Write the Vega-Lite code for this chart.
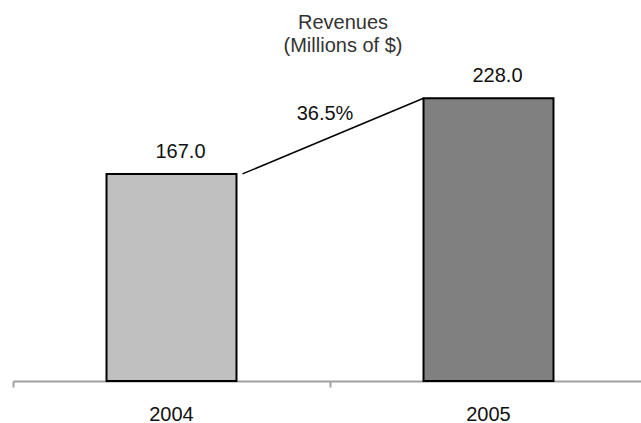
{
  "$schema": "https://vega.github.io/schema/vega-lite/v6.json",
  "width": 634,
  "height": 310,
  "autosize": {"type": "none"},
  "padding": {"left": 13, "top": 71, "right": 0, "bottom": 42},
  "background": "white",
  "config": {"view": {"stroke": null}, "font": "Liberation Sans"},
  "title": {
    "text": ["Revenues", "(Millions of $)"],
    "fontSize": 20,
    "fontWeight": "normal",
    "color": "#333333",
    "anchor": "middle",
    "dx": 13,
    "offset": 10,
    "lineHeight": 23
  },
  "datasets": {
    "revenues": [
      {"year": "2004", "revenue": 167.0, "label": "167.0"},
      {"year": "2005", "revenue": 228.0, "label": "228.0"}
    ],
    "growth": [
      {"from": "2004", "to": "2005", "start": 167.0, "end": 228.0, "growth": "36.5%"}
    ]
  },
  "layer": [
    {
      "data": {"name": "revenues"},
      "mark": {"type": "bar", "stroke": "black", "strokeWidth": 2, "width": {"band": 0.41}},
      "encoding": {
        "x": {
          "field": "year",
          "type": "nominal",
          "scale": {"padding": 0},
          "axis": {
            "title": null,
            "labelAngle": 0,
            "bandPosition": 0,
            "domainColor": "#A0A0A0",
            "domainWidth": 2,
            "tickColor": "#A0A0A0",
            "tickWidth": 2,
            "tickSize": 6,
            "labelFontSize": 20,
            "labelColor": "#111111",
            "labelPadding": 17
          }
        },
        "y": {"field": "revenue", "type": "quantitative", "scale": {"domain": [0, 250], "nice": false}, "axis": null},
        "color": {
          "field": "year",
          "type": "nominal",
          "scale": {"domain": ["2004", "2005"], "range": ["#C0C0C0", "#808080"]},
          "legend": null
        }
      }
    },
    {
      "data": {"name": "revenues"},
      "mark": {"type": "text", "fontSize": 20, "color": "#111111", "dx": 9, "dy": -22, "baseline": "middle"},
      "encoding": {
        "x": {"field": "year", "type": "nominal"},
        "y": {"field": "revenue", "type": "quantitative"},
        "text": {"field": "label"}
      }
    },
    {
      "data": {"name": "growth"},
      "mark": {"type": "rule", "color": "black", "strokeWidth": 1.5, "xOffset": 71, "x2Offset": -65},
      "encoding": {
        "x": {"field": "from", "type": "nominal", "bandPosition": 0.5},
        "x2": {"field": "to"},
        "y": {"field": "start", "type": "quantitative"},
        "y2": {"field": "end"}
      }
    },
    {
      "data": {"name": "growth"},
      "mark": {"type": "text", "fontSize": 20, "color": "#111111", "dx": -5, "dy": 16, "baseline": "middle"},
      "encoding": {
        "x": {"field": "from", "type": "nominal", "bandPosition": 1},
        "y": {"field": "end", "type": "quantitative"},
        "text": {"field": "growth"}
      }
    }
  ]
}
